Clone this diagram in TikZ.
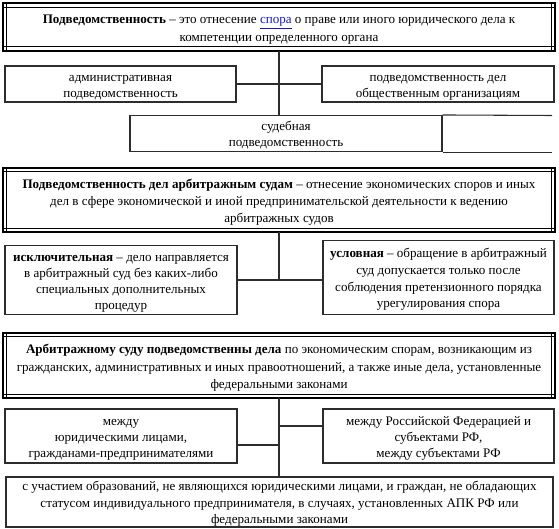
\documentclass[tikz,border=0pt]{standalone}
\usepackage{fontspec}
\setmainfont{Liberation Serif}
\usetikzlibrary{calc}
\definecolor{linkblue}{RGB}{20,20,210}
\definecolor{linec}{RGB}{45,45,45}
\newcommand\ml[1]{\raisebox{-1.6pt}[\height][\depth]{\begin{tabular}{@{}c@{}}#1\end{tabular}}}
\tikzset{
  txt/.style={rectangle, inner sep=0pt, font=\fontsize{9.8}{13}\selectfont},
  box/.style={txt, draw=linec, line width=0.8pt, font=\fontsize{9.8}{12}\selectfont},
  dbox/.style={txt},
  conn/.style={draw=linec, line width=0.8pt},
  outerframe/.style={draw=black, line width=1.5pt},
  innerframe/.style={draw=black, line width=0.7pt},
}
\newcommand\dframe[1]{%
  \draw[outerframe] (#1.north west) rectangle (#1.south east);
  \draw[innerframe] ($(#1.north west)+(0,3.8)$) -- ($(#1.north east)+(0,3.8)$);
  \draw[innerframe] ($(#1.south west)+(0,-3.8)$) -- ($(#1.south east)+(0,-3.8)$);
  \draw[innerframe] ($(#1.north west)+(3.8,0)$) -- ($(#1.south west)+(3.8,0)$);
  \draw[innerframe] ($(#1.north east)+(-3.8,0)$) -- ($(#1.south east)+(-3.8,0)$);
}
\begin{document}
\begin{tikzpicture}[x=0.75pt,y=-0.75pt]
\useasboundingbox (0,0) rectangle (559,528);

% --- block 1
\node[dbox, minimum width={552*0.75pt}, minimum height={47*0.75pt}] (def) at (279,27)
  {\ml{\textbf{Подведомственность} – это отнесение \textcolor{linkblue}{\underline{спора}} о праве или иного юридического дела к\\компетенции определенного органа}};
\dframe{def}
\node[box, minimum width={231*0.75pt}, minimum height={36*0.75pt}] (adm) at (120.5,84)
  {\ml{административная\\подведомственность}};
\node[box, minimum width={232*0.75pt}, minimum height={36*0.75pt}] (pub) at (438,84)
  {\ml{подведомственность дел\\общественным организациям}};
\node[box, minimum width={312*0.75pt}, minimum height={36*0.75pt}] (jud) at (286,133.5)
  {\ml{судебная\\подведомственность}};
\coordinate (jr) at (552,115.5);
\draw[conn] (jud.north east) -- (jr);
\draw[conn] (jud.south east) -- (jud.south east -| jr);
\draw[conn] (def.south) -- (def.south |- jud.north);
\draw[conn] (adm.east) -- (pub.west);

% --- block 2
\node[dbox, minimum width={552*0.75pt}, minimum height={64*0.75pt}] (arb) at (279,200)
  {\ml{\textbf{Подведомственность дел арбитражным судам} – отнесение экономических споров и иных\\дел в сфере экономической и иной предпринимательской деятельности к ведению\\арбитражных судов}};
\dframe{arb}
\node[box, minimum width={232*0.75pt}, minimum height={69*0.75pt}] (excl) at (121,280)
  {\ml{\textbf{исключительная} – дело направляется\\в арбитражный суд без каких-либо\\специальных дополнительных\\процедур}};
\node[box, font=\fontsize{9.8}{12.5}\selectfont, minimum width={231*0.75pt}, minimum height={74*0.75pt}] (cond) at (438.5,277.5)
  {\ml{\textbf{условная} – обращение в арбитражный\\суд допускается только после\\соблюдения претензионного порядка\\урегулирования спора}};
\draw[conn] (arb.south) -- (arb.south |- excl.east);
\draw[conn] (excl.east) -- (excl.east -| cond.west);

% --- block 3
\node[dbox, minimum width={552*0.75pt}, minimum height={65*0.75pt}] (juris) at (279,365.5)
  {\ml{\textbf{Арбитражному суду подведомственны дела} по экономическим спорам, возникающим из\\гражданских, административных и иных правоотношений, а также иные дела, установленные\\федеральными законами}};
\dframe{juris}
\node[box, minimum width={232*0.75pt}, minimum height={54*0.75pt}] (legal) at (121,436)
  {\ml{между\\юридическими лицами,\\гражданами-предпринимателями}};
\node[box, minimum width={231*0.75pt}, minimum height={54*0.75pt}] (fed) at (438.5,436)
  {\ml{между Российской Федерацией и\\субъектами РФ,\\между субъектами РФ}};
\node[box, font=\fontsize{9.8}{12.4}\selectfont, minimum width={547*0.75pt}, minimum height={50*0.75pt}] (part) at (279.5,502)
  {\ml{с участием образований, не являющихся юридическими лицами, и граждан, не обладающих\\статусом индивидуального предпринимателя, в случаях, установленных АПК РФ или\\федеральными законами}};
\draw[conn] (juris.south) -- (juris.south |- part.north);
\coordinate (fr) at ($(fed.west)+(0,-10)$);
\draw[conn] (fr) -- (fr -| juris.south);
\coordinate (lr) at ($(legal.east)+(0,9)$);
\draw[conn] (lr) -- (lr -| juris.south);
\end{tikzpicture}
\end{document}
